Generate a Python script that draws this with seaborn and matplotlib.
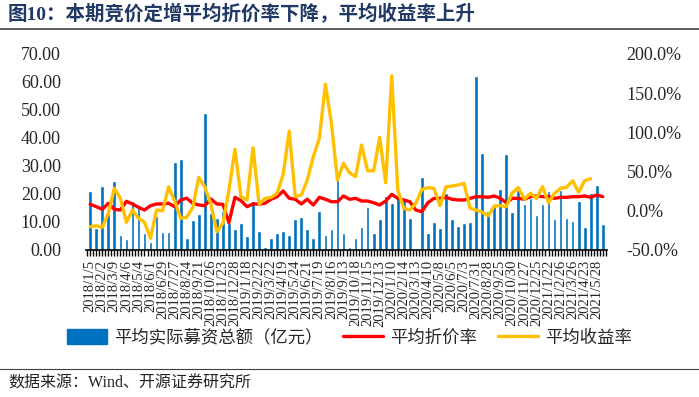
import numpy as np
import pandas as pd
import matplotlib
matplotlib.use('Agg')
import matplotlib.pyplot as plt
from matplotlib.lines import Line2D
from matplotlib.patches import Patch
from matplotlib.ticker import FuncFormatter, MultipleLocator
import seaborn as sns

# 平均实际募资总额（亿元）
amount = [21.2, 8.0, 22.9, 13.0, 24.8, 5.4, 3.8, 17.5, 15.5, 6.0, 3.0, 12.3, 6.4, 6.3, 31.5, 32.4,
          4.2, 10.7, 12.7, 48.8, 13.1, 11.3, 14.0, 9.5, 7.5, 9.6, 5.1, 17.5, 6.8, 1.2, 4.2,
          6.0, 6.9, 5.4, 11.0, 11.9, 7.4, 4.2, 14.0, 5.4, 7.5, 25.6, 6.0, 1.2, 4.2, 8.3, 15.5,
          6.0, 11.1, 19.3, 16.9, 19.3, 18.1, 11.3, 0.5, 26.2, 6.0, 10.1, 7.7,
          20.5, 11.0, 8.6, 9.5, 9.9, 62.1, 34.8, 13.9, 16.4, 21.7, 34.2, 13.7, 21.4, 16.4, 18.5,
          12.5, 16.4, 21.2, 11.0, 21.4, 11.4, 10.5, 17.6, 8.3, 20.2, 23.2, 9.2]

# 平均折价率 (%)
discount = [8.3, 5.3, 1.9, 9.6, 1.9, 1.0, 12.1, 8.7, 4.5, 1.0, 6.5, 8.7, 8.7, 9.6, 5.3, 13.8,
            16.0, 9.6, 7.5, 6.5, 15.1, 8.7, 8.3, -15.2, 17.2, 12.9, 5.3, 8.7, 8.7, 9.6, 14.7,
            18.0, 25.3, 15.9, 14.7, 8.7, 14.7, 7.4, 17.2, 14.7, 11.6, 11.6, 18.9, 14.7, 15.9, 12.5,
            12.5, 10.3, 7.4, 12.5, 21.0, 15.9, 13.8, 11.6, 1.0, -1.1, 10.3, 15.9, 15.9,
            17.2, 14.7, 13.8, 13.8, 15.9, 18.0, 18.0, 17.2, 18.9, 15.9, 10.3, 15.9, 15.9, 14.7,
            18.0, 18.9, 18.0, 18.0, 15.9, 17.2, 17.2, 18.0, 18.0, 18.9, 17.2, 20.2, 18.0]

# 平均收益率 (%)
ret = [-20.2, -19.0, -21.0, -3.2, 28.7, 15.9, -14.7, 1.0, -9.6, -14.7, -35.1, 1.0, 0.1, 30.7,
       12.5, -9.6, -8.3, 4.0, 42.7, 30.7, 8.7, -26.7, -16.0, 26.5, 78.4, 18.0, 13.8, 80.5, 8.7,
       15.9, 17.0,
       22.3, 46.5, 101.8, 18.0, 20.2, 39.3, 69.0, 92.5, 161.4, 111.6, 39.3, 60.6, 48.6, 43.5,
       83.9, 51.1, 50.8, 93.7, 35.8, 172.3, 26.5, 3.2, 1.0, 9.6, 27.4, 29.5, 28.7, 6.5,
       30.7, 31.6, 32.9, 35.0, 3.2, 1.0, -1.9, -6.3, 6.1, 6.5, 5.3, 23.1, 29.5, 14.7, 22.3,
       15.9, 30.7, 10.3, 22.3, 28.7, 30.0, 38.4, 23.6, 38.4, 41.0, np.nan, np.nan]

tick_labels = ['2018/1/5', '2018/2/2', '2018/3/9', '2018/4/6', '2018/5/4', '2018/6/1',
               '2018/6/29', '2018/7/27', '2018/8/24', '2018/9/21', '2018/10/26', '2018/11/23',
               '2018/12/28', '2019/1/18', '2019/2/22', '2019/3/22', '2019/4/19', '2019/5/24',
               '2019/6/21', '2019/7/19', '2019/8/16', '2019/9/13', '2019/10/18', '2019/11/15',
               '2019/12/13', '2020/1/10', '2020/2/14', '2020/3/13', '2020/4/10', '2020/5/8',
               '2020/6/5', '2020/7/3', '2020/7/31', '2020/8/28', '2020/9/25', '2020/10/30',
               '2020/11/27', '2020/12/25', '2021/1/22', '2021/2/26', '2021/3/26', '2021/4/23',
               '2021/5/28']

df = pd.DataFrame({'idx': np.arange(len(amount)), 'amount': amount,
                   'discount': discount, 'ret': ret})

sns.set_style('white')
plt.rcParams['font.family'] = ['Liberation Serif', 'Noto Sans CJK SC']
plt.rcParams['axes.unicode_minus'] = False

blue = '#0070C0'
red = '#FF0000'
yellow = '#FFC000'

fig = plt.figure(figsize=(6.99, 3.97), dpi=100)
ax = fig.add_axes([86 / 699, 1 - 250 / 397, 521 / 699, 196 / 397])

sns.barplot(data=df, x='idx', y='amount', color=blue, saturation=1, width=0.62, ax=ax)
ax2 = ax.twinx()
sns.lineplot(data=df, x='idx', y='discount', color=red, lw=2.4, ax=ax2)
sns.lineplot(data=df, x='idx', y='ret', color=yellow, lw=2.4, ax=ax2)

n = len(amount)
ax.set_xlim(-0.7, n - 1 + 0.7)
ax.set_ylim(0, 70)
ax2.set_ylim(-50, 200)
ax.yaxis.set_major_locator(MultipleLocator(10))
ax2.yaxis.set_major_locator(MultipleLocator(50))
ax.yaxis.set_major_formatter(FuncFormatter(lambda v, p: f'{v:.2f}'))
ax2.yaxis.set_major_formatter(FuncFormatter(lambda v, p: f'{v:.1f}%'))
ax.set_xlabel('')
ax.set_ylabel('')
ax2.set_xlabel('')
ax2.set_ylabel('')

ax.set_xticks(np.arange(0, len(tick_labels) * 2, 2))
ax.set_xticklabels(tick_labels, rotation=90, fontsize=10.5)
ax.set_xticks(np.arange(-0.5, n, 0.5), minor=True)
ax.tick_params(axis='x', which='both', direction='out', length=4, width=1, color='black',
               bottom=True, pad=3)
ax.tick_params(axis='y', length=0, labelsize=13, pad=18)
ax2.tick_params(axis='y', length=0, labelsize=13, pad=14)

for a in (ax, ax2):
    for s in ('top', 'left', 'right', 'bottom'):
        a.spines[s].set_visible(False)
ax.spines['bottom'].set_visible(True)
ax.spines['bottom'].set_color('black')
ax.spines['bottom'].set_linewidth(1.2)

handles = [Patch(color=blue), Line2D([], [], color=red, lw=2.4), Line2D([], [], color=yellow, lw=2.4)]
labels = ['平均实际募资总额（亿元）', '平均折价率', '平均收益率']
fig.legend(handles, labels, loc='center', bbox_to_anchor=(0.5, 1 - 338 / 397), ncol=3,
           frameon=False, fontsize=12.5, handlelength=2.3, handleheight=0.9,
           handletextpad=0.4, columnspacing=1.2)

fig.text(8 / 699, 1 - 14 / 397, '图10：本期竞价定增平均折价率下降，平均收益率上升',
         fontsize=14, fontweight='bold', color='#1F3864', va='center', ha='left')
fig.add_artist(Line2D([0, 1], [1 - 29 / 397, 1 - 29 / 397], color='#404040', lw=1.2))
fig.add_artist(Line2D([0, 1], [1 - 369 / 397, 1 - 369 / 397], color='#404040', lw=0.8))
fig.text(8 / 699, 1 - 384 / 397, '数据来源：Wind、开源证券研究所', fontsize=11.5,
         color='#222222', va='center', ha='left')

fig.savefig('out.png', dpi=100)
